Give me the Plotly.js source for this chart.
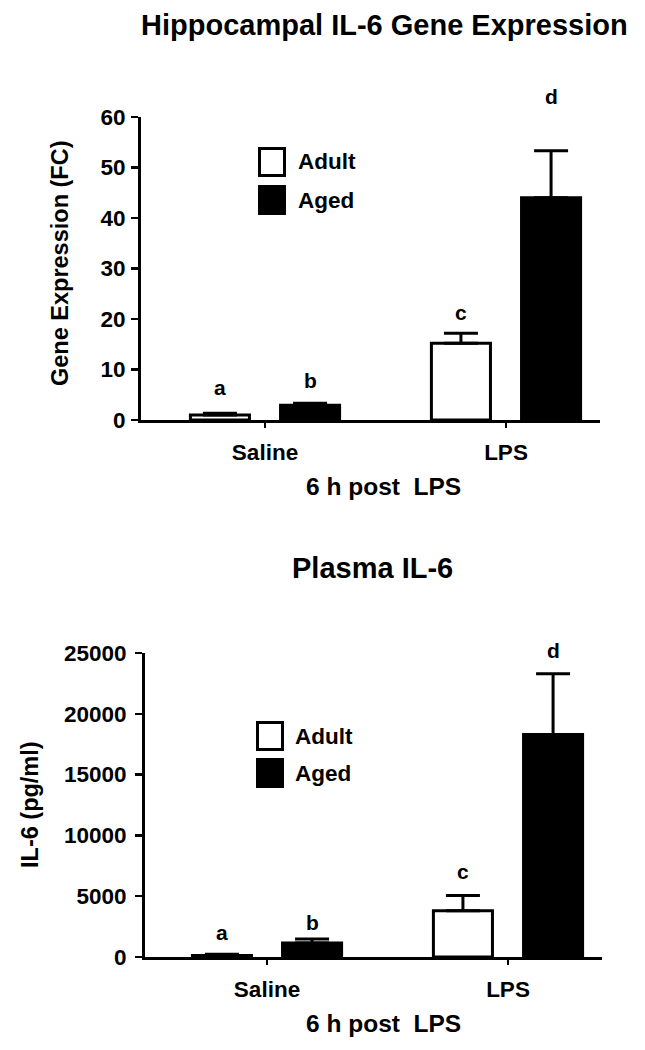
<!DOCTYPE html>
<html>
<head>
<meta charset="utf-8">
<script src="https://cdn.plot.ly/plotly-3.0.1.min.js"></script>
<style>
  html, body { margin: 0; padding: 0; background: #fff; }
  #chart { width: 645px; height: 1050px; }
</style>
</head>
<body>
<div id="chart"></div>
<script>
// ---------------- DATA ----------------
const categories = ['Saline', 'LPS'];
const seriesNames = ['Adult', 'Aged'];

// Panel 1: Hippocampal IL-6 gene expression (fold change)
const geneAdult = [1.0, 15.2];
const geneAdultErr = [0.35, 2.0];
const geneAged = [2.9, 44.0];
const geneAgedErr = [0.4, 9.3];
const geneLettersAdult = ['a', 'c'];
const geneLettersAged = ['b', 'd'];
const geneTicks = [0, 10, 20, 30, 40, 50, 60];

// Panel 2: Plasma IL-6 (pg/ml)
const plasmaAdult = [120, 3800];
const plasmaAdultErr = [100, 1250];
const plasmaAged = [1150, 18300];
const plasmaAgedErr = [330, 5000];
const plasmaLettersAdult = ['a', 'c'];
const plasmaLettersAged = ['b', 'd'];
const plasmaTicks = [0, 5000, 10000, 15000, 20000, 25000];

const titles = ['Hippocampal IL-6 Gene Expression', 'Plasma IL-6'];
const yTitles = ['Gene Expression (FC)', 'IL-6 (pg/ml)'];
const xTitle = '6 h post\u00a0 LPS';

// ---------------- STYLE ----------------
const W = 645, H = 1050;
const px = x => x / W;
const py = y => 1 - y / H;
const FONT = 'Arial, "Liberation Sans", Helvetica, sans-serif';
const fillColors = ['#ffffff', '#000000'];
const BAR_W = 0.245;
const HALF_GAP = 0.187;       // distance of each bar centre from the category centre
const centerOffsets = [-HALF_GAP, HALF_GAP];

const panels = [
  {
    xa: 'x', ya: 'y', xaxisKey: 'xaxis', yaxisKey: 'yaxis',
    xDomainPx: [141, 600], yDomainPx: [117, 420], catPx: [265, 506],
    yRange: [0, 60], ticks: geneTicks, yStandoff: 1,
    values: [geneAdult, geneAged], errs: [geneAdultErr, geneAgedErr],
    letters: [geneLettersAdult, geneLettersAged],
    letterShift: [[26, 21], [23, 54]],
    titlePos: [384, 25], xTitlePos: [383, 486], yTitlePos: [60, 263],
    legendPos: [258, 147], legendStep: 38, legendTextX: 296
  },
  {
    xa: 'x2', ya: 'y2', xaxisKey: 'xaxis2', yaxisKey: 'yaxis2',
    xDomainPx: [145, 602], yDomainPx: [653, 957], catPx: [267, 508],
    yRange: [0, 25000], ticks: plasmaTicks, yStandoff: 4,
    values: [plasmaAdult, plasmaAged], errs: [plasmaAdultErr, plasmaAgedErr],
    letters: [plasmaLettersAdult, plasmaLettersAged],
    letterShift: [[22, 24], [17, 23]],
    titlePos: [372, 568], xTitlePos: [383, 1023], yTitlePos: [30, 805],
    legendPos: [256, 721], legendStep: 37, legendTextX: 293
  }
];

const traces = [];
const annotations = [];
const shapes = [];
const layout = {
  width: W, height: H,
  margin: { l: 0, r: 0, t: 0, b: 0 },
  paper_bgcolor: '#ffffff', plot_bgcolor: '#ffffff',
  showlegend: false,
  barmode: 'overlay',
  font: { family: FONT, color: '#000', size: 20, weight: 'bold' }
};

panels.forEach((p, pi) => {
  const unit = p.catPx[1] - p.catPx[0];
  const xr = [(p.xDomainPx[0] - p.catPx[0]) / unit, (p.xDomainPx[1] - p.catPx[0]) / unit];

  layout[p.xaxisKey] = {
    type: 'category', categoryorder: 'array', categoryarray: categories,
    domain: [px(p.xDomainPx[0]), px(p.xDomainPx[1])],
    anchor: p.ya, range: xr, fixedrange: true,
    showline: true, linecolor: '#000', linewidth: 3,
    ticks: 'outside', ticklen: 5, tickwidth: 2, tickcolor: '#000',
    showgrid: false, zeroline: false,
    tickfont: { family: FONT, size: 22.5, color: '#000', weight: 'bold' },
    ticklabelstandoff: 5
  };
  layout[p.yaxisKey] = {
    domain: [py(p.yDomainPx[1]), py(p.yDomainPx[0])],
    anchor: p.xa, range: p.yRange, fixedrange: true,
    tickmode: 'array', tickvals: p.ticks, ticktext: p.ticks.map(String),
    showline: true, linecolor: '#000', linewidth: 3,
    ticks: 'outside', ticklen: 7, tickwidth: 2.5, tickcolor: '#000',
    showgrid: false, zeroline: false,
    tickfont: { family: FONT, size: 22.5, color: '#000', weight: 'bold' },
    ticklabelstandoff: p.yStandoff
  };

  seriesNames.forEach((name, si) => {
    traces.push({
      type: 'bar', name: name,
      x: categories, y: p.values[si],
      xaxis: p.xa, yaxis: p.ya,
      width: BAR_W, offset: centerOffsets[si] - BAR_W / 2,
      marker: { color: fillColors[si], line: { color: '#000', width: 3 } },
      error_y: {
        type: 'data', symmetric: false,
        array: p.errs[si], arrayminus: p.errs[si].map(() => 0),
        color: '#000', thickness: 3, width: 17
      },
      hoverinfo: 'skip'
    });

    // significance letters above error bars
    categories.forEach((c, ci) => {
      annotations.push({
        xref: p.xa, yref: p.ya,
        x: ci + centerOffsets[si], y: p.values[si][ci] + p.errs[si][ci],
        text: p.letters[si][ci], showarrow: false,
        yanchor: 'middle', xanchor: 'center', yshift: p.letterShift[si][ci],
        font: { family: FONT, size: 21, color: '#000', weight: 'bold' }
      });
    });

    // legend (large square swatches)
    const bx = p.legendPos[0] + 1.5, by = p.legendPos[1] + 1.5 + si * p.legendStep;
    shapes.push({
      type: 'rect', xref: 'paper', yref: 'paper',
      x0: px(bx), x1: px(bx + 25), y0: py(by), y1: py(by + 27),
      fillcolor: fillColors[si], line: { color: '#000', width: 3 }
    });
    annotations.push({
      xref: 'paper', yref: 'paper',
      x: px(p.legendTextX), y: py(by + 13.5),
      xanchor: 'left', yanchor: 'middle', showarrow: false,
      text: name,
      font: { family: FONT, size: 22.5, color: '#000', weight: 'bold' }
    });
  });

  // panel title
  annotations.push({
    xref: 'paper', yref: 'paper', x: px(p.titlePos[0]), y: py(p.titlePos[1]),
    xanchor: 'center', yanchor: 'middle', showarrow: false,
    text: titles[pi],
    font: { family: FONT, size: 29, color: '#000', weight: 'bold' }
  });
  // x axis title
  annotations.push({
    xref: 'paper', yref: 'paper', x: px(p.xTitlePos[0]), y: py(p.xTitlePos[1]),
    xanchor: 'center', yanchor: 'middle', showarrow: false,
    text: xTitle,
    font: { family: FONT, size: 24.5, color: '#000', weight: 'bold' }
  });
  // y axis title
  annotations.push({
    xref: 'paper', yref: 'paper', x: px(p.yTitlePos[0]), y: py(p.yTitlePos[1]),
    xanchor: 'center', yanchor: 'middle', showarrow: false, textangle: -90,
    text: yTitles[pi],
    font: { family: FONT, size: 23.5, color: '#000', weight: 'bold' }
  });
});

layout.annotations = annotations;
layout.shapes = shapes;

Plotly.newPlot('chart', traces, layout, { displayModeBar: false, staticPlot: true });
</script>
</body>
</html>
